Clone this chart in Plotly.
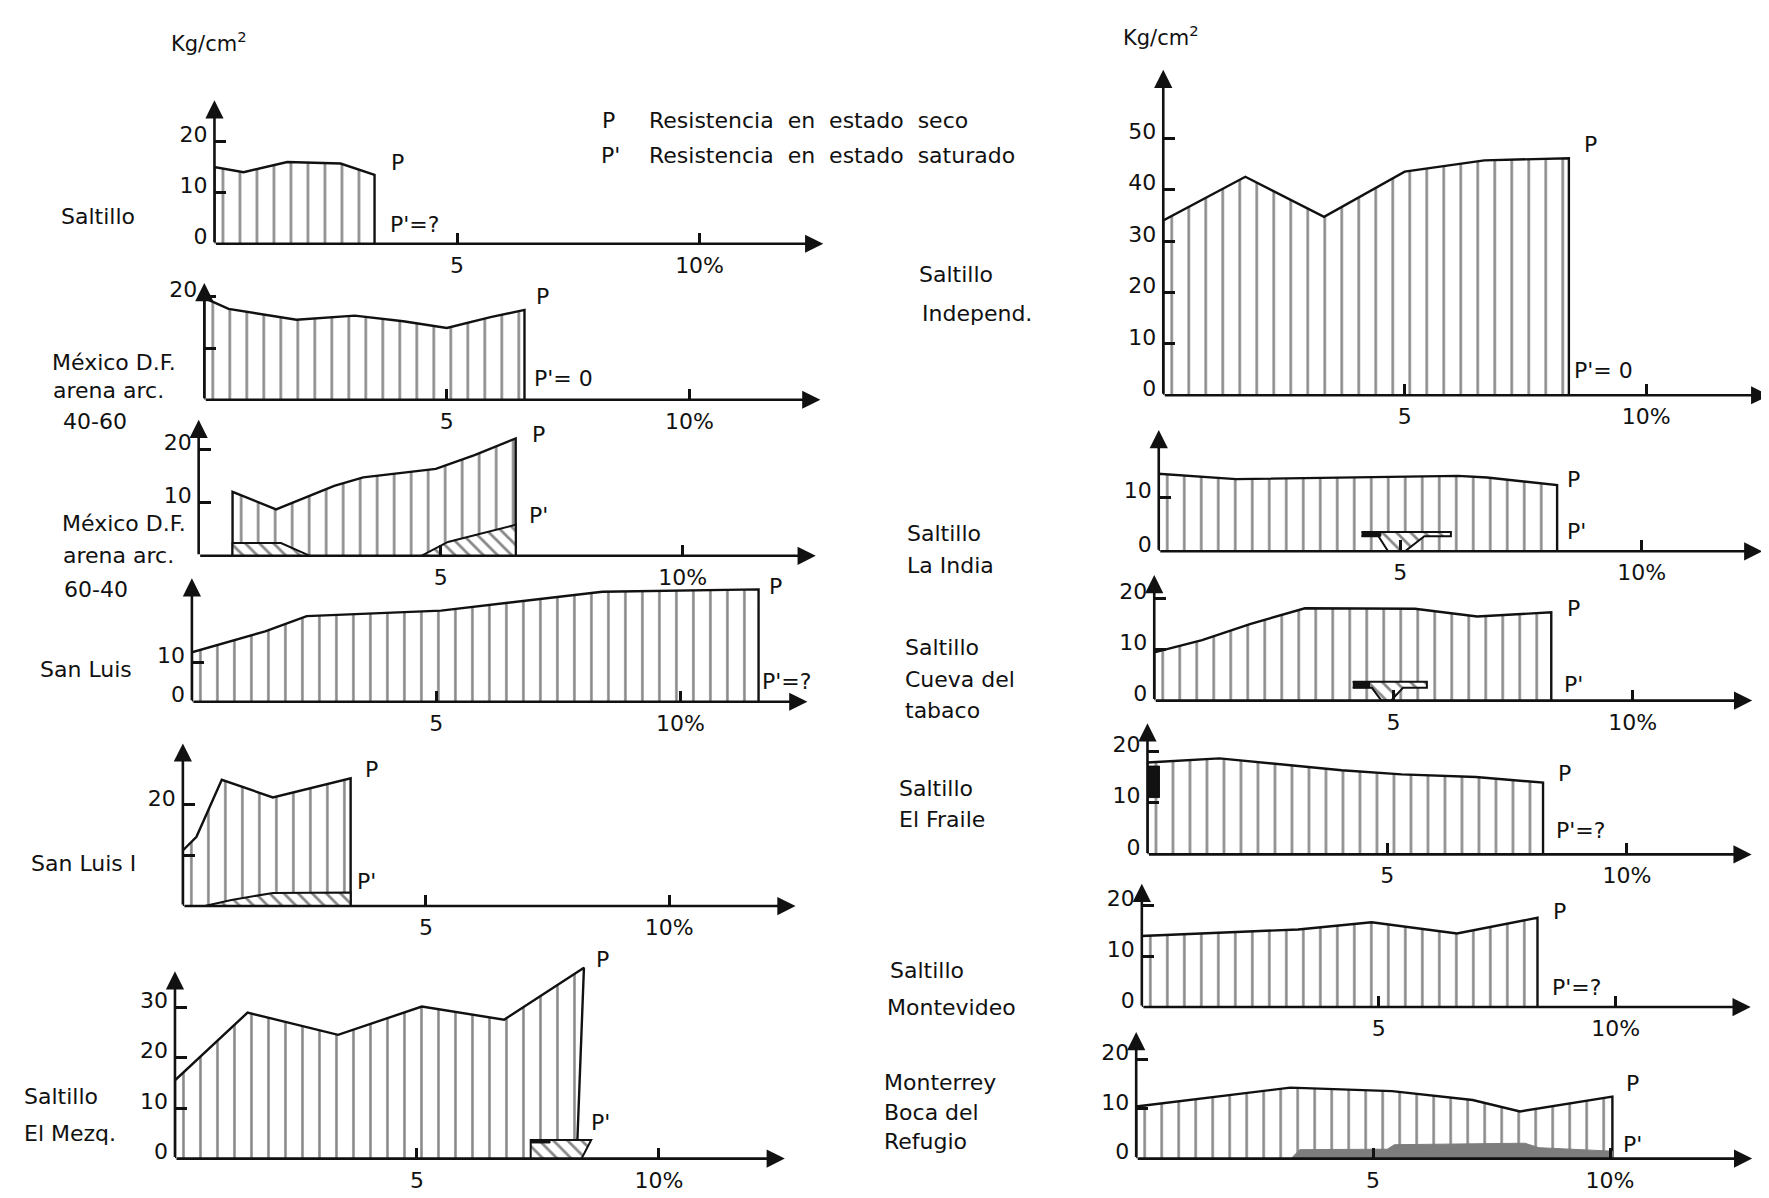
import plotly.graph_objects as go

W, H = 1769, 1198
S = W / 1568.0          # layout coordinates below are measured on a 1568-wide copy
FONT = "DejaVu Sans"
INK = "#111111"

# ---------------- data (x: % ; y: Kg/cm2) ----------------
saltillo_x = [0, 0.6, 1.5, 2.6, 3.3]
saltillo_p = [15.0, 14.0, 16.0, 15.7, 13.5]

mex4060_x = [0, 0.5, 1.9, 3.1, 4.1, 5.0, 5.9, 6.6]
mex4060_p = [19.7, 17.6, 15.5, 16.3, 15.2, 13.9, 16.0, 17.4]

mex6040_x = [0.7, 1.6, 2.8, 3.4, 4.9, 5.7, 6.55]
mex6040_p = [12.0, 8.7, 13.1, 14.7, 16.3, 18.9, 22.0]
mex6040_sat1_x = [0.7, 0.7, 1.7, 2.3]
mex6040_sat1_y = [0, 2.4, 2.4, 0]
mex6040_sat2_x = [4.6, 5.15, 6.55, 6.55]
mex6040_sat2_y = [0, 2.6, 5.8, 0]

sanluis_x = [0, 1.5, 2.35, 5.1, 7.4, 8.4, 11.6]
sanluis_p = [12.6, 17.9, 21.8, 23.2, 26.5, 28.0, 28.6]

sanluis1_x = [0, 0.28, 0.8, 1.85, 3.45]
sanluis1_p = [11.0, 13.7, 25.0, 21.5, 25.3]
sanluis1_sat_x = [0.45, 1.0, 1.85, 3.45, 3.45]
sanluis1_sat_y = [0, 1.2, 2.6, 2.7, 0]

mezq_x = [0, 1.5, 3.37, 5.1, 6.8, 8.45, 8.3]
mezq_p = [15.5, 28.9, 24.5, 30.1, 27.5, 37.8, 0]
mezq_sat_x = [7.35, 7.35, 8.6, 8.4]
mezq_sat_y = [0, 3.7, 3.7, 0]
mezq_blk_x = [7.35, 7.75]
mezq_blk_y = [3.1, 3.7]

indep_x = [0, 1.7, 3.33, 5.0, 6.65, 8.4]
indep_p = [34.0, 42.5, 34.7, 43.5, 45.7, 46.1]

india_x = [0, 1.6, 6.2, 6.8, 8.25]
india_p = [14.4, 13.4, 14.0, 13.7, 12.3]
india_sat_x = [4.2, 6.05, 6.05, 5.5, 5.1, 4.75, 4.55, 4.2]
india_sat_y = [3.6, 3.6, 2.8, 2.8, 0, 0, 2.8, 2.8]
india_blk_x = [4.2, 4.6]
india_blk_y = [2.8, 3.6]

cueva_x = [0, 1.0, 2.0, 3.15, 5.45, 6.75, 8.3]
cueva_p = [9.4, 11.8, 14.9, 18.0, 17.9, 16.4, 17.2]
cueva_sat_x = [4.15, 5.7, 5.7, 5.2, 4.95, 4.75, 4.55, 4.15]
cueva_sat_y = [3.7, 3.7, 2.5, 2.5, 0, 0, 2.5, 2.5]
cueva_blk_x = [4.15, 4.5]
cueva_blk_y = [2.5, 3.7]

fraile_x = [0, 1.5, 4.05, 5.3, 6.85, 8.25]
fraile_p = [17.8, 18.6, 16.3, 15.5, 15.0, 13.9]
fraile_blk_x = [0, 0.25]
fraile_blk_y = [11.0, 17.1]

monte_x = [0, 3.3, 4.85, 6.65, 8.35]
monte_p = [14.0, 15.3, 16.7, 14.5, 17.6]

boca_x = [0, 3.25, 5.4, 7.1, 8.1, 10.05]
boca_p = [10.5, 14.3, 13.6, 11.8, 9.5, 12.5]
boca_sat_x = [3.27, 3.45, 5.3, 5.45, 8.2, 8.5, 10.05, 10.05]
boca_sat_y = [0, 1.8, 1.9, 2.8, 3.1, 2.2, 1.5, 0]

x_tickvals = [5, 10]
x_ticktext = ["5", "10%"]

# ---------------- panel layout ----------------
panels = [
    dict(x0=183, xu=43.0, y0=210, yu=4.55, xa=12.55, ya=28.1,
         px=saltillo_x, py=saltillo_p, yt=[0, 10, 20], yl=["0", "10", "20"],
         sat=[], blk=[],
         labels=[("P", 345, 138), ("P'=?", 360, 193)],
         names=[("Saltillo", 45, 186)]),
    dict(x0=174, xu=43.0, y0=349, yu=4.6, xa=12.7, ya=22.6,
         px=mex4060_x, py=mex4060_p, yt=[10, 20], yl=["", "20"],
         sat=[], blk=[],
         labels=[("P", 474, 257), ("P'= 0", 492, 330)],
         names=[("México D.F.", 37, 316), ("arena arc.", 38, 341), ("40-60", 47, 368)]),
    dict(x0=169, xu=42.9, y0=488, yu=4.75, xa=12.75, ya=25.5,
         px=mex6040_x, py=mex6040_p, yt=[10, 20], yl=["10", "20"],
         sat=[(mex6040_sat1_x, mex6040_sat1_y, "hatch"), (mex6040_sat2_x, mex6040_sat2_y, "hatch")],
         blk=[],
         labels=[("P", 470, 380), ("P'", 470, 452)],
         names=[("México D.F.", 46, 459), ("arena arc.", 47, 488), ("60-40", 48, 518)]),
    dict(x0=163, xu=43.3, y0=618, yu=3.5, xa=12.6, ya=31.4,
         px=sanluis_x, py=sanluis_p, yt=[0, 10], yl=["0", "10"],
         sat=[], blk=[],
         labels=[("P", 680, 515), ("P'=?", 690, 600)],
         names=[("San Luis", 27, 589)]),
    dict(x0=155, xu=43.1, y0=800, yu=4.5, xa=12.6, ya=32.2,
         px=sanluis1_x, py=sanluis1_p, yt=[10, 20], yl=["", "20"],
         sat=[(sanluis1_sat_x, sanluis1_sat_y, "hatch")], blk=[],
         labels=[("P", 322, 678), ("P'", 318, 778)],
         names=[("San Luis I", 19, 762)]),
    dict(x0=148, xu=42.9, y0=1025, yu=4.5, xa=12.6, ya=37.1,
         px=mezq_x, py=mezq_p, yt=[0, 10, 20, 30], yl=["0", "10", "20", "30"],
         sat=[(mezq_sat_x, mezq_sat_y, "hatch")], blk=[(mezq_blk_x, mezq_blk_y)],
         labels=[("P", 527, 848), ("P'", 525, 993)],
         names=[("Saltillo", 12, 970), ("El Mezq.", 12, 1003)]),
    dict(x0=1024, xu=42.8, y0=345, yu=4.58, xa=12.55, ya=63.3,
         px=indep_x, py=indep_p, yt=[0, 10, 20, 30, 40, 50],
         yl=["0", "10", "20", "30", "40", "50"], sat=[], blk=[],
         labels=[("P", 1403, 122), ("P'= 0", 1414, 323)],
         names=[("Saltillo", 806, 237), ("Independ.", 808, 272)]),
    dict(x0=1020, xu=42.8, y0=484, yu=4.8, xa=12.5, ya=22.5,
         px=india_x, py=india_p, yt=[0, 10], yl=["0", "10"],
         sat=[(india_sat_x, india_sat_y, "hatch")], blk=[(india_blk_x, india_blk_y)],
         labels=[("P", 1388, 420), ("P'", 1390, 466)],
         names=[("Saltillo", 795, 468), ("La India", 795, 497)]),
    dict(x0=1016, xu=42.4, y0=617, yu=4.57, xa=12.5, ya=24.5,
         px=cueva_x, py=cueva_p, yt=[0, 10, 20], yl=["0", "10", "20"],
         sat=[(cueva_sat_x, cueva_sat_y, "hatch")], blk=[(cueva_blk_x, cueva_blk_y)],
         labels=[("P", 1388, 535), ("P'", 1388, 603)],
         names=[("Saltillo", 793, 570), ("Cueva del", 793, 598), ("tabaco", 793, 626)]),
    dict(x0=1010, xu=42.5, y0=754, yu=4.6, xa=12.6, ya=25.4,
         px=fraile_x, py=fraile_p, yt=[0, 10, 20], yl=["0", "10", "20"],
         sat=[], blk=[(fraile_blk_x, fraile_blk_y)],
         labels=[("P", 1380, 682), ("P'=?", 1394, 733)],
         names=[("Saltillo", 788, 695), ("El Fraile", 788, 723)]),
    dict(x0=1005, xu=42.0, y0=890, yu=4.52, xa=12.85, ya=24.3,
         px=monte_x, py=monte_p, yt=[0, 10, 20], yl=["0", "10", "20"],
         sat=[], blk=[],
         labels=[("P", 1375, 805), ("P'=?", 1390, 873)],
         names=[("Saltillo", 780, 857), ("Montevideo", 777, 890)]),
    dict(x0=1000, xu=42.0, y0=1025, yu=4.42, xa=13.0, ya=25.5,
         px=boca_x, py=boca_p, yt=[0, 10, 20], yl=["0", "10", "20"],
         sat=[(boca_sat_x, boca_sat_y, "gray")], blk=[],
         labels=[("P", 1440, 958), ("P'", 1440, 1012)],
         names=[("Monterrey", 775, 957), ("Boca del", 775, 984), ("Refugio", 775, 1010)]),
]

fig = go.Figure()
layout = dict(width=W, height=H, autosize=False, margin=dict(l=0, r=0, t=0, b=0),
              paper_bgcolor="white", plot_bgcolor="rgba(0,0,0,0)", showlegend=False,
              font=dict(family=FONT, color=INK, size=22))
annotations = []


def paper_text(text, px, py, size=22, anchor="center"):
    annotations.append(dict(text=text, x=px * S / W, y=1 - py * S / H, xref="paper", yref="paper",
                            xanchor=anchor, yanchor="middle", showarrow=False,
                            font=dict(family=FONT, size=size, color=INK)))


for i, p in enumerate(panels, start=1):
    xr = "x" if i == 1 else f"x{i}"
    yr = "y" if i == 1 else f"y{i}"
    xk = "xaxis" if i == 1 else f"xaxis{i}"
    yk = "yaxis" if i == 1 else f"yaxis{i}"

    x0f, xuf, y0f, yuf = p["x0"] * S, p["xu"] * S, p["y0"] * S, p["yu"] * S
    xmax = min(p["xa"] + 0.35, (W - 1 - x0f) / xuf)
    ymax = max(p["ya"], max(p["py"])) + 1.5

    layout[xk] = dict(domain=[x0f / W, (x0f + xmax * xuf) / W], range=[0, xmax], anchor=yr,
                      showgrid=False, zeroline=False, showline=False, ticks="inside",
                      ticklen=11, tickwidth=2.5, tickcolor=INK,
                      tickvals=x_tickvals, ticktext=x_ticktext,
                      tickfont=dict(family=FONT, size=22, color=INK),
                      ticklabelstandoff=6, fixedrange=True)
    layout[yk] = dict(domain=[1 - y0f / H, 1 - (y0f - ymax * yuf) / H], range=[0, ymax], anchor=xr,
                      showgrid=False, zeroline=False, showline=False, ticks="inside",
                      ticklen=12, tickwidth=2.5, tickcolor=INK,
                      tickvals=p["yt"], ticktext=p["yl"],
                      tickfont=dict(family=FONT, size=22, color=INK),
                      ticklabelstandoff=6, ticklabelshift=-7, fixedrange=True)

    # P (dry strength) area with vertical hatching
    xs, ys = list(p["px"]), list(p["py"])
    if ys[-1] != 0:
        xs = xs + [xs[-1]]
        ys = ys + [0]
    xs = [xs[0]] + xs
    ys = [0] + ys
    fig.add_trace(go.Scatter(x=xs, y=ys, xaxis=xr, yaxis=yr, mode="lines", fill="toself",
                             line=dict(color=INK, width=2.4), fillcolor="white",
                             fillpattern=dict(shape="|", size=17, solidity=0.15,
                                              fgcolor=INK, bgcolor="white", fillmode="overlay"),
                             hoverinfo="skip"))
    # P' (saturated strength)
    for sx, sy, kind in p["sat"]:
        if kind == "gray":
            fig.add_trace(go.Scatter(x=sx, y=sy, xaxis=xr, yaxis=yr, mode="lines", fill="toself",
                                     line=dict(color="#7d7d7d", width=1), fillcolor="#7d7d7d",
                                     hoverinfo="skip"))
        else:
            fig.add_trace(go.Scatter(x=sx, y=sy, xaxis=xr, yaxis=yr, mode="lines", fill="toself",
                                     line=dict(color=INK, width=2), fillcolor="white",
                                     fillpattern=dict(shape="\\", size=10, solidity=0.28,
                                                      fgcolor=INK, bgcolor="white", fillmode="overlay"),
                                     hoverinfo="skip"))
    for bx, by in p["blk"]:
        fig.add_trace(go.Scatter(x=[bx[0], bx[1], bx[1], bx[0]], y=[by[0], by[0], by[1], by[1]],
                                 xaxis=xr, yaxis=yr, mode="lines", fill="toself",
                                 line=dict(color=INK, width=1), fillcolor=INK, hoverinfo="skip"))

    # axes drawn as arrows
    for hx, hy in ((p["xa"], 0), (0, p["ya"])):
        annotations.append(dict(x=hx, y=hy, ax=0, ay=0, xref=xr, yref=yr, axref=xr, ayref=yr,
                                text="", showarrow=True, arrowhead=2, arrowsize=1.4,
                                arrowwidth=2.6, arrowcolor=INK))

    for t, lx, ly in p["labels"]:
        paper_text(t, lx, ly, size=22)
    for t, lx, ly in p["names"]:
        paper_text(t, lx, ly, size=22, anchor="left")

# units and legend
paper_text("Kg/cm<sup>2</sup>", 178, 30, size=21)
paper_text("Kg/cm<sup>2</sup>", 1022, 25, size=21)
paper_text("P", 532, 100, size=22)
paper_text("P'", 534, 131, size=22)
paper_text("Resistencia\u00a0 en\u00a0 estado\u00a0 seco", 566, 100, size=22, anchor="left")
paper_text("Resistencia\u00a0 en\u00a0 estado\u00a0 saturado", 566, 131, size=22, anchor="left")

layout["annotations"] = annotations
fig.update_layout(**layout)
fig.write_html("out.html")
